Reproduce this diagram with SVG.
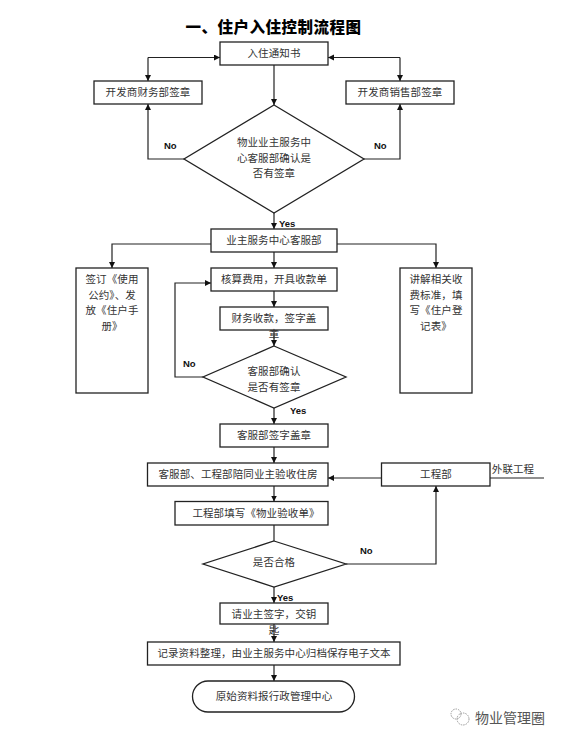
<svg xmlns="http://www.w3.org/2000/svg" width="562" height="742" viewBox="0 0 562 742">
<style>
.b{fill:#fff;stroke:#222;stroke-width:1.3}
.t{font-family:"Noto Sans CJK SC","Liberation Serif",serif;font-size:10.5px;fill:#333;text-anchor:middle;letter-spacing:.1px}
.l{font-family:"Liberation Sans",Arial,sans-serif;font-size:9.5px;fill:#111;font-weight:bold}
.c{fill:none;stroke:#222;stroke-width:1.2;marker-end:url(#a)}
.n{fill:none;stroke:#222;stroke-width:1.2}
</style>
<defs><marker id="a" markerUnits="userSpaceOnUse" markerWidth="7" markerHeight="7" refX="6" refY="3" orient="auto"><path d="M0 0L6 3L0 6z" fill="#111"/></marker></defs>
<rect width="562" height="742" fill="#fff"/>
<text x="273.500" y="33" style="font-family:'Noto Sans CJK SC',serif;font-size:15.500px;font-weight:900;text-anchor:middle;fill:#000;letter-spacing:.5px">一、住户入住控制流程图</text>
<g id="connectors">
<path class="c" d="M274 65V105"/>
<path class="c" d="M148 57.500H220"/><path class="c" d="M148 57.500V81"/>
<path class="c" d="M400 57.500H328"/><path class="c" d="M400 57.500V81"/>
<path class="c" d="M184 159H148V104"/><path class="c" d="M364 159H400V104"/>
<path class="c" d="M274 213V229"/>
<path class="c" d="M211 244H112V268"/><path class="c" d="M337 244H436V268"/>
<path class="c" d="M274 252V268"/><path class="c" d="M274 291V307"/><path class="c" d="M274 330V346"/>
<path class="c" d="M203 377H175V283H211"/>
<path class="c" d="M274 408V424"/><path class="c" d="M274 447V463"/>
<path class="c" d="M381.500 478H328"/><path class="n" d="M490 478H544"/>
<path class="c" d="M274 486V501.500"/><path class="n" d="M274 525V541"/>
<path class="c" d="M346 564H436V486"/>
<path class="c" d="M274 587V603"/><path class="c" d="M274 624V642"/><path class="c" d="M274 665V681"/>
</g>
<g id="n1"><rect class="b" x="220" y="42" width="108" height="23"/><text class="t" x="274" y="57">入住通知书</text></g>
<g id="n2"><rect class="b" x="94" y="81" width="108" height="23"/><text class="t" x="148" y="96">开发商财务部签章</text></g>
<g id="n3"><rect class="b" x="346" y="81" width="108" height="23"/><text class="t" x="400" y="96">开发商销售部签章</text></g>
<g id="n4"><path class="b" d="M274 105L364 159L274 213L184 159Z"/><text class="t" x="274" y="146">物业业主服务中</text><text class="t" x="274" y="162">心客服部确认是</text><text class="t" x="274" y="177">否有签章</text></g>
<g id="n5"><rect class="b" x="211" y="229" width="126" height="23"/><text class="t" x="274" y="244">业主服务中心客服部</text></g>
<g id="n6"><rect class="b" x="76" y="268" width="72" height="125"/><text class="t" x="112" y="283">签订《使用</text><text class="t" x="112" y="299">公约》、发</text><text class="t" x="112" y="314">放《住户手</text><text class="t" x="112" y="330">册》</text></g>
<g id="n7"><rect class="b" x="400" y="268" width="72" height="125"/><text class="t" x="436" y="283">讲解相关收</text><text class="t" x="436" y="299">费标准，填</text><text class="t" x="436" y="314">写《住户登</text><text class="t" x="436" y="330">记表》</text></g>
<g id="n8"><rect class="b" x="211" y="268" width="126" height="23"/><text class="t" x="274" y="283">核算费用，开具收款单</text></g>
<g id="n9"><rect class="b" x="220" y="307" width="108" height="23"/><text class="t" x="274" y="322">财务收款，签字盖</text><text class="t" x="274" y="338">章</text></g>
<g id="n10"><path class="b" d="M274 346L346 377L274 408L203 377Z"/><text class="t" x="274" y="375">客服部确认</text><text class="t" x="274" y="391">是否有签章</text></g>
<g id="n11"><rect class="b" x="220" y="424" width="108" height="23"/><text class="t" x="274" y="439">客服部签字盖章</text></g>
<g id="n12"><rect class="b" x="147.500" y="463" width="180.500" height="23"/><text class="t" x="238" y="478">客服部、工程部陪同业主验收住房</text></g>
<g id="n13"><rect class="b" x="381.500" y="463" width="108.500" height="23"/><text class="t" x="436" y="478">工程部</text></g>
<g id="n14"><rect class="b" x="175" y="501.500" width="153" height="23.500"/><text class="t" x="256" y="517">工程部填写《物业验收单》</text></g>
<g id="n15"><path class="b" d="M274 541L346 564L274 587L203 564Z"/><text class="t" x="274" y="566">是否合格</text></g>
<g id="n16"><rect class="b" x="220" y="603" width="108" height="21"/><text class="t" x="274" y="618">请业主签字，交钥</text><text class="t" x="274" y="634">匙</text></g>
<g id="n17"><rect class="b" x="147.500" y="642" width="252.500" height="23"/><text class="t" x="274" y="657">记录资料整理，由业主服务中心归档保存电子文本</text></g>
<g id="n18"><rect class="b" x="192.500" y="681" width="162" height="31" rx="15.500"/><text class="t" x="274" y="700">原始资料报行政管理中心</text></g>
<g id="labels">
<text class="l" x="164" y="149">No</text><text class="l" x="374" y="149">No</text>
<text class="l" x="279" y="227">Yes</text>
<text class="l" x="183" y="367">No</text><text class="l" x="290" y="414">Yes</text>
<text class="l" x="360" y="554">No</text><text class="l" x="277" y="601">Yes</text>
<text class="t" x="513" y="473">外联工程</text>
</g>
<g id="watermark">
<circle cx="456" cy="714" r="5" fill="none" stroke="#999" stroke-dasharray="1.500 1"/><circle cx="463" cy="719" r="6" fill="none" stroke="#999" stroke-dasharray="1.500 1"/>
<text x="510" y="723" style="font-family:'Noto Sans CJK SC',sans-serif;font-size:14px;fill:#555;text-anchor:middle">物业管理圈</text>
</g>
</svg>
